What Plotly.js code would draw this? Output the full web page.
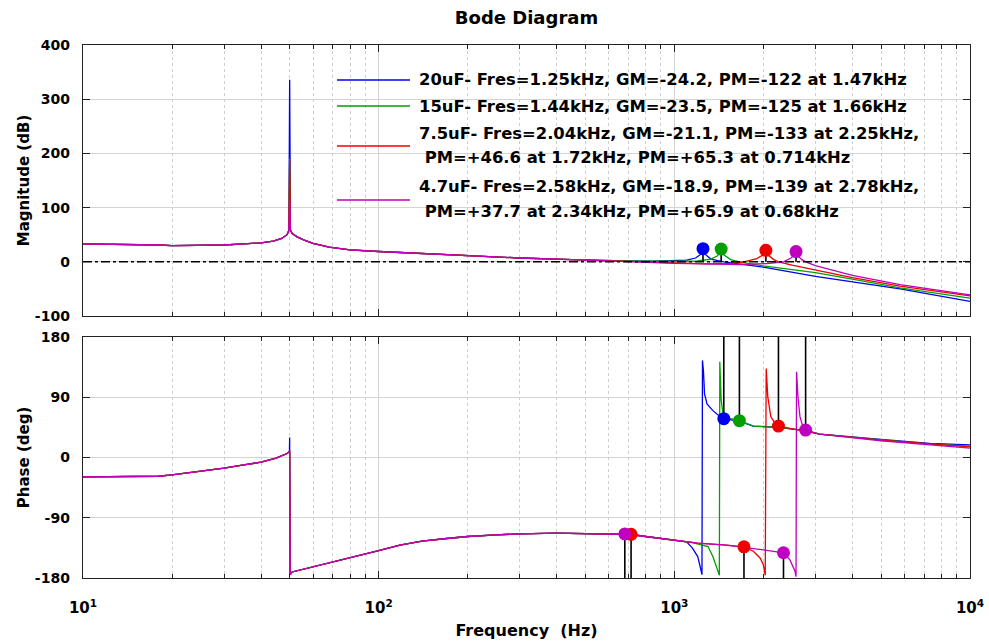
<!DOCTYPE html>
<html><head><meta charset="utf-8">
<script src="https://cdn.plot.ly/plotly-3.0.1.min.js"></script>
<style>html,body{margin:0;padding:0;background:#fff}#chart{width:989px;height:641px}</style>
</head><body><div id="chart"></div>
<script>
// ---------- series ----------
const seriesKeys   = ['c20', 'c15', 'c75', 'c47'];
const seriesColors = ['#0000f0', '#00a000', '#f00000', '#c000c0'];
const legendLines = [
  ['20uF- Fres=1.25kHz, GM=-24.2, PM=-122 at 1.47kHz'],
  ['15uF- Fres=1.44kHz, GM=-23.5, PM=-125 at 1.66kHz'],
  ['7.5uF- Fres=2.04kHz, GM=-21.1, PM=-133 at 2.25kHz,', ' PM=+46.6 at 1.72kHz, PM=+65.3 at 0.714kHz'],
  ['4.7uF- Fres=2.58kHz, GM=-18.9, PM=-139 at 2.78kHz,', ' PM=+37.7 at 2.34kHz, PM=+65.9 at 0.68kHz']
];

// ---------- magnitude (dB) ----------
// shared part (all curves overlap)
const fMagShared1 = [10, 15, 18, 20, 25, 30, 35, 40, 44, 47, 49, 49.7];
const magShared1  = [33, 32.5, 31, 30, 30, 31, 33, 35, 38, 43, 50, 58];
const fMagSpike   = [50];
const magSpike = { c20: [336], c15: [190], c75: [188], c47: [115] };
const fMagShared2 = [50.3, 51, 53, 56, 60, 68, 80, 100, 140, 200, 300, 450, 600];
const magShared2  = [58, 52, 46, 40, 34, 27, 22, 19, 15, 11, 7, 4, 2];
// per-capacitor high-frequency part
const fMagHigh = {
  c20: [680, 850, 1000, 1100, 1180, 1230, 1250, 1270, 1330, 1400, 1470, 1600, 2000, 3000, 4000, 5800, 10000],
  c15: [680, 850, 1000, 1200, 1330, 1400, 1440, 1470, 1550, 1660, 2000, 3000, 4000, 5800, 10000],
  c75: [680, 714, 850, 1000, 1300, 1550, 1720, 1900, 2000, 2040, 2080, 2170, 2250, 2500, 3000, 4000, 5800, 10000],
  c47: [680, 850, 1000, 1300, 1700, 2100, 2340, 2480, 2540, 2580, 2630, 2700, 2780, 3000, 4000, 5800, 10000]
};
const magHigh = {
  c20: [1.5, 1, 1.5, 3, 7, 14, 24.2, 14, 5, 2, 0, -3, -10, -27, -37, -50, -73],
  c15: [1.5, 1, 1, 1.5, 5, 11, 23.5, 13, 4, 0, -7.5, -20, -32, -48, -67],
  c75: [0.8, 0, -1.5, -2.5, -4, -3, 0, 6, 13, 21.1, 12, 4, 0, -6, -15, -29, -45, -63],
  c47: [0, -1.5, -3, -4.5, -5, -3, 0, 7, 12, 18.9, 10, 4, 0, -7, -25, -42, -61]
};

// ---------- phase (deg) ----------
const fPhShared1 = [10, 15, 18, 20, 25, 30, 35, 40, 45, 49, 49.9];
const phShared1  = [-29, -29, -28, -26, -21, -16, -11, -7, -1, 6, 9];
const fPhSpike   = [50, 50.1, 50.2];
const phSpike = { c20: [30, -88, -175], c15: [9, -80, -175], c75: [9, -80, -175], c47: [9, -80, -175] };
const fPhShared2 = [51, 60, 70, 80, 100, 118, 140, 170, 200, 250, 300, 400, 500, 680, 714, 800, 1000, 1100];
const phShared2  = [-171, -163, -156, -150, -139, -131, -125, -121, -118, -115.5, -114, -113, -113.5, -114.5, -115, -118, -123, -126];
const fPhHigh = {
  c20: [1150, 1200, 1230, 1240, 1245, 1255, 1265, 1290, 1350, 1420, 1470, 1660, 1850, 2250, 2780, 3100, 5000, 7300, 10000],
  c15: [1150, 1300, 1350, 1400, 1420, 1425, 1440, 1460, 1550, 1660, 1850, 2250, 2780, 3100, 5000, 7300, 10000],
  c75: [1200, 1500, 1720, 1850, 1950, 2000, 2030, 2045, 2070, 2120, 2200, 2250, 2500, 2780, 3100, 5000, 7300, 10000],
  c47: [1200, 1500, 1720, 2000, 2340, 2460, 2560, 2580, 2590, 2620, 2660, 2720, 2780, 3100, 5000, 7300, 10000]
};
const phHigh = {
  c20: [-135, -148, -168, -175, 145, 128, 95, 80, 70, 62, 58, 54, 47, 45, 40, 35, 27, 21, 19],
  c15: [-127, -133, -148, -168, -176, 143, 86, 66, 58, 55, 47, 45, 40, 35, 26, 20, 17],
  c75: [-128, -131, -133.4, -140, -150, -160, -176, 133, 91, 61, 50, 47, 43, 40, 35, 26, 20, 16],
  c47: [-128, -131, -134, -138, -142.3, -153, -170, -178, 128, 90, 61, 46, 41, 35, 25, 19, 14]
};

// ---------- stability margins ----------
const gmFreq   = { c20: [1250], c15: [1440], c75: [2040], c47: [2580] };
const gmValue  = { c20: [-24.2], c15: [-23.5], c75: [-21.1], c47: [-18.9] };
const pmFreq   = { c20: [1470], c15: [1660], c75: [2250, 1720, 714], c47: [2780, 2340, 680] };
const pmValue  = { c20: [-122], c15: [-125], c75: [-133, 46.6, 65.3], c47: [-139, 37.7, 65.9] };

// ---------- axes ticks ----------
const xTickVals = [10, 100, 1000, 10000];
const xTickText = ['10<sup>1</sup>', '10<sup>2</sup>', '10<sup>3</sup>', '10<sup>4</sup>'];
const xMinorVals = [20,30,40,50,60,70,80,90,200,300,400,500,600,700,800,900,2000,3000,4000,5000,6000,7000,8000,9000];
const magTicks = [-100, 0, 100, 200, 300, 400];
const magTickText = ['-100', '0', '100', '200', '300', '400'];
const phTicks = [-180, -90, 0, 90, 180];
const phTickText = ['-180', '-90', '0', '90', '180'];

// ---------- build traces ----------
const traces = [];
seriesKeys.forEach((k, i) => {
  traces.push({
    x: fMagShared1.concat(fMagSpike, fMagShared2, fMagHigh[k]),
    y: magShared1.concat(magSpike[k], magShared2, magHigh[k]),
    xaxis: 'x2', yaxis: 'y', mode: 'lines', type: 'scatter',
    line: { color: seriesColors[i], width: 1.3 }, hoverinfo: 'skip'
  });
});
seriesKeys.forEach((k, i) => {
  traces.push({
    x: fPhShared1.concat(fPhSpike, fPhShared2, fPhHigh[k]),
    y: phShared1.concat(phSpike[k], phShared2, phHigh[k]),
    xaxis: 'x', yaxis: 'y2', mode: 'lines', type: 'scatter',
    line: { color: seriesColors[i], width: 1.3 }, hoverinfo: 'skip'
  });
});
// stems
const stemMx = [], stemMy = [], stemPx = [], stemPy = [];
seriesKeys.forEach(k => {
  gmFreq[k].forEach((f, j) => { stemMx.push(f, f, null); stemMy.push(-gmValue[k][j], 0, null); });
  pmFreq[k].forEach((f, j) => {
    const pm = pmValue[k][j];
    const ph = pm < 0 ? pm + 180 : pm - 180;
    stemPx.push(f, f, null); stemPy.push(ph, pm < 0 ? 180 : -180, null);
  });
});
traces.push({ x: stemMx, y: stemMy, xaxis: 'x2', yaxis: 'y', mode: 'lines', line: { color: '#000', width: 1.6 }, hoverinfo: 'skip' });
traces.push({ x: stemPx, y: stemPy, xaxis: 'x', yaxis: 'y2', mode: 'lines', line: { color: '#000', width: 1.6 }, hoverinfo: 'skip' });
// markers
seriesKeys.forEach((k, i) => {
  traces.push({
    x: gmFreq[k], y: gmValue[k].map(v => -v), xaxis: 'x2', yaxis: 'y', mode: 'markers',
    marker: { color: seriesColors[i], size: 13, line: { width: 0 } }, hoverinfo: 'skip'
  });
  traces.push({
    x: pmFreq[k], y: pmValue[k].map(v => v < 0 ? v + 180 : v - 180), xaxis: 'x', yaxis: 'y2', mode: 'markers',
    marker: { color: seriesColors[i], size: 13, line: { width: 0 } }, hoverinfo: 'skip'
  });
});

// ---------- layout ----------
const FONT = 'DejaVu Sans';
const axisLine = '#222';
const xCommon = {
  type: 'log', range: [1, 4], tickmode: 'array', tickvals: xTickVals,
  ticks: 'inside', ticklen: 7, tickwidth: 1, tickcolor: axisLine,
  showline: true, linecolor: axisLine, linewidth: 1.3, mirror: 'allticks',
  showgrid: true, gridcolor: '#d4d4d4', gridwidth: 1, zeroline: false,
  minor: { tickmode: 'array', tickvals: xMinorVals, ticks: 'inside', ticklen: 4, tickcolor: axisLine,
           showgrid: true, gridcolor: '#cfcfcf', griddash: 'dot', gridwidth: 1 }
};
const yCommon = {
  tickmode: 'array', ticks: 'inside', ticklen: 7, tickwidth: 1, tickcolor: axisLine,
  showline: true, linecolor: axisLine, linewidth: 1.3, mirror: 'allticks',
  showgrid: true, gridcolor: '#d4d4d4', gridwidth: 1, zeroline: false,
  tickfont: { family: FONT, size: 14, weight: 'bold', color: '#000' }, ticklabelstandoff: 9
};

const W = 989, H = 641, mL = 83, mR = 19, mT = 45, mB = 63;
const pw = W - mL - mR, ph = H - mT - mB;
const px2x = v => (v - mL) / pw;
const py2y = v => (H - mB - v) / ph;

const shapes = [
  { type: 'line', xref: 'x2 domain', yref: 'y', x0: 0, x1: 1, y0: 0, y1: 0, layer: 'above',
    line: { color: '#000', width: 1.4, dash: 'dashdot' } },
  { type: 'rect', xref: 'paper', yref: 'paper', x0: px2x(327), x1: px2x(966), y0: py2y(225), y1: py2y(66),
    layer: 'between', fillcolor: '#fff', line: { width: 0 } }
];
const legendRowsY = [[80], [106], [133, 157], [186, 212]];
const annotations = [];
legendLines.forEach((lines, i) => {
  const ys = legendRowsY[i];
  const mid = ys.reduce((a, b) => a + b, 0) / ys.length;
  shapes.push({ type: 'line', xref: 'paper', yref: 'paper', x0: px2x(337), x1: px2x(410),
    y0: py2y(mid + (ys.length > 1 ? 1 : 0)), y1: py2y(mid + (ys.length > 1 ? 1 : 0)), layer: 'above',
    line: { color: seriesColors[i], width: 1.5 } });
  lines.forEach((t, j) => {
    annotations.push({ xref: 'paper', yref: 'paper', x: px2x(417), y: py2y(ys[j]), xanchor: 'left', yanchor: 'middle',
      text: t.replace(/^ /, '&nbsp;'), showarrow: false,
      font: { family: FONT, size: 16.4, weight: 'bold', color: '#000' } });
  });
});

const layout = {
  width: W, height: H, margin: { l: mL, r: mR, t: mT, b: mB },
  paper_bgcolor: '#fff', plot_bgcolor: '#fff', showlegend: false,
  font: { family: FONT, size: 14, color: '#000' },
  title: { text: 'Bode Diagram', font: { family: FONT, size: 18, weight: 'bold', color: '#000' },
           xref: 'paper', x: 0.5, xanchor: 'center', yref: 'container', y: 1 - 18 / H, yanchor: 'middle' },
  xaxis: Object.assign({}, xCommon, { anchor: 'y2', domain: [0, 1], ticktext: xTickText,
    tickfont: { family: FONT, size: 15, weight: 'bold', color: '#000' }, ticklabelstandoff: 16,
    title: { text: 'Frequency&nbsp; (Hz)', font: { family: FONT, size: 16, weight: 'bold', color: '#000' }, standoff: 8 } }),
  xaxis2: Object.assign({}, xCommon, { anchor: 'y', matches: 'x', showticklabels: false }),
  yaxis: Object.assign({}, yCommon, { domain: [py2y(316), 1], anchor: 'x2', range: [-100, 400], tickvals: magTicks, ticktext: magTickText,
    title: { text: 'Magnitude (dB)', font: { family: FONT, size: 15, weight: 'bold', color: '#000' }, standoff: 1 } }),
  yaxis2: Object.assign({}, yCommon, { domain: [0, py2y(337)], anchor: 'x', range: [-180, 180], tickvals: phTicks, ticktext: phTickText,
    title: { text: 'Phase (deg)', font: { family: FONT, size: 15, weight: 'bold', color: '#000' }, standoff: 1 } }),
  shapes: shapes, annotations: annotations
};

Plotly.newPlot('chart', traces, layout, { staticPlot: true, displayModeBar: false });
</script></body></html>
